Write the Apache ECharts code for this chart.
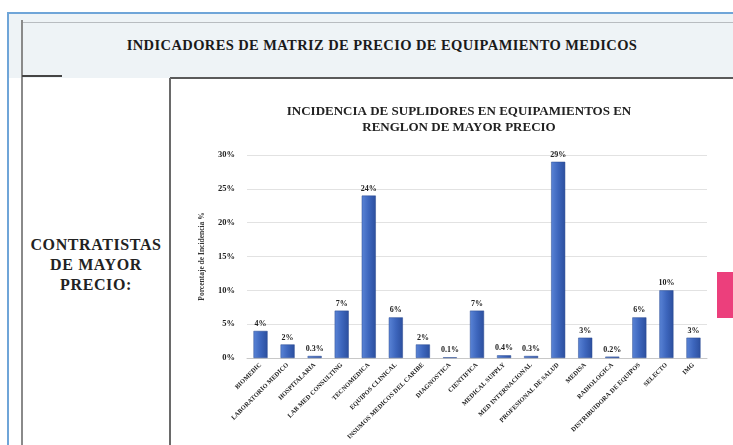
<!DOCTYPE html>
<html><head><meta charset="utf-8">
<script src="https://cdn.jsdelivr.net/npm/echarts@6/dist/echarts.min.js"></script>
<style>
html,body{margin:0;padding:0;}
body{width:733px;height:445px;position:relative;overflow:hidden;background:#fff;font-family:"Liberation Serif","DejaVu Serif",serif;}
.abs{position:absolute;}
#chart{position:absolute;left:0;top:0;width:733px;height:445px;}
</style></head>
<body>
<div class="abs" style="left:9px;top:14px;width:724px;height:64px;background:#eef3f6;"></div>
<div class="abs" style="left:8px;top:12px;width:725px;height:2px;background:#6fa5d8;"></div>
<div class="abs" style="left:7px;top:12px;width:2px;height:433px;background:#6fa5d8;"></div>
<div class="abs" style="left:22px;top:22px;width:711px;height:1px;background:#b8bcc0;"></div>
<div class="abs" style="left:21px;top:20px;width:2px;height:425px;background:#8a8a8a;"></div>
<div class="abs" style="left:170px;top:77px;width:563px;height:2px;background:#5a5a5a;"></div>
<div class="abs" style="left:22px;top:75px;width:40px;height:2px;background:#444;"></div>
<div class="abs" style="left:169px;top:78px;width:2px;height:367px;background:#6a6a6a;"></div>
<div class="abs" style="left:717px;top:272px;width:16px;height:46px;background:#ec3f7c;"></div>
<div class="abs" style="left:32px;top:37px;width:700px;text-align:center;font-weight:bold;font-size:14.5px;letter-spacing:0.4px;color:#1a1a1a;">INDICADORES DE MATRIZ DE PRECIO DE EQUIPAMIENTO MEDICOS</div>
<div class="abs" style="left:22px;top:235px;width:148px;text-align:center;font-weight:bold;font-size:16px;letter-spacing:0.6px;line-height:20px;color:#222;">CONTRATISTAS<br>DE MAYOR<br>PRECIO:</div>
<div id="chart"></div>
<script>
const categories = ["BIOMEDIC","LABORATORIO MEDICO","HOSPITALARIA","LAB MED CONSULTING","TECNOMEDICA","EQUIPOS CLINICAL","INSUMOS MEDICOS DEL CARIBE","DIAGNOSTICA","CIENTIFICA","MEDICAL SUPPLY","MED INTERNACIONAL","PROFESIONAL DE SALUD","MEDISA","RADIOLOGICA","DISTRIBUIDORA DE EQUIPOS","SELECTO","IMG"];
const values = [4,2,0.3,7,24,6,2,0.1,7,0.4,0.3,29,3,0.2,6,10,3];
const yTicks = [0,5,10,15,20,25,30];
const chartTitle = "INCIDENCIA DE SUPLIDORES EN EQUIPAMIENTOS EN\nRENGLON DE MAYOR PRECIO";
const yName = "Porcentaje de Incidencia %";

const chart = echarts.init(document.getElementById('chart'));
const serif = '"Liberation Serif","DejaVu Serif",serif';
chart.setOption({
  backgroundColor:'transparent',
  animation:false,
  title:{text:chartTitle,left:454,top:99,textAlign:'center',
    textStyle:{fontFamily:serif,fontWeight:'bold',fontSize:13,color:'#222',lineHeight:16}},
  grid:{left:247,right:26,top:155,bottom:87},
  xAxis:{type:'category',data:categories,
    axisLine:{lineStyle:{color:'#c8c8c8'}},axisTick:{show:false},
    axisLabel:{interval:0,rotate:45,fontSize:6.5,fontWeight:'bold',fontFamily:serif,color:'#222',margin:6}},
  yAxis:{type:'value',min:yTicks[0],max:yTicks[yTicks.length-1],interval:5,
    name:yName,nameLocation:'middle',nameGap:41,nameRotate:90,
    nameTextStyle:{fontFamily:serif,fontSize:7.5,fontWeight:'bold',color:'#333'},
    axisLine:{show:false},axisTick:{show:false},
    axisLabel:{formatter:'{value}%',fontSize:8.5,fontWeight:'bold',fontFamily:serif,color:'#222',margin:12},
    splitLine:{lineStyle:{color:'#e2e2e2'}}},
  series:[{type:'bar',data:values,barWidth:'52%',
    itemStyle:{color:new echarts.graphic.LinearGradient(0,0,1,0,[{offset:0,color:'#5a84d6'},{offset:0.5,color:'#3d66bd'},{offset:1,color:'#2c4f9e'}]),borderColor:'#2a4a90',borderWidth:0.5},
    label:{show:true,position:'top',distance:3,formatter:p=>p.value+'%',fontSize:8,fontWeight:'bold',fontFamily:serif,color:'#222'}}]
});
</script>
</body></html>
